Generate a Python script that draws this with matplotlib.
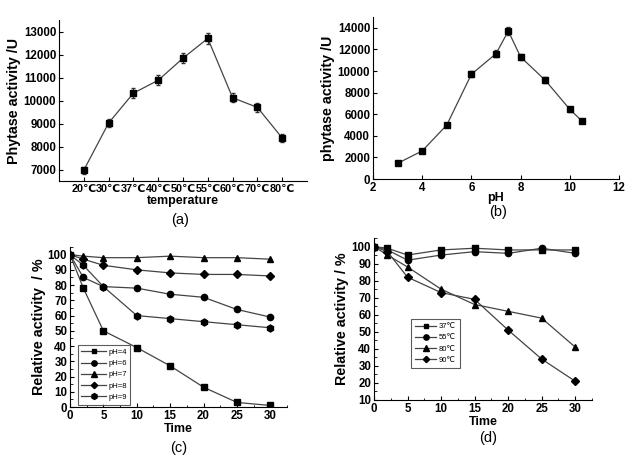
import numpy as np
import matplotlib.pyplot as plt
from matplotlib.ticker import MultipleLocator

plt.rcParams['font.family'] = ['Liberation Sans', 'DejaVu Sans']

# (a) temperature vs phytase activity
temp_labels = ['20℃', '30℃', '37℃', '40℃', '50℃', '55℃', '60℃', '70℃', '80℃']
temp_activity = [6970, 9020, 10320, 10880, 11840, 12700, 10120, 9700, 8370]
temp_err = [150, 180, 220, 220, 230, 250, 200, 200, 180]

# (b) pH vs phytase activity
ph_values = [3, 4, 5, 6, 7, 7.5, 8, 9, 10, 10.5]
ph_activity = [1450, 2600, 5000, 9700, 11600, 13700, 11300, 9150, 6450, 5350]
ph_err = [100, 100, 120, 300, 300, 400, 300, 250, 200, 120]

# (c) pH stability over time
time_c = [0, 2, 5, 10, 15, 20, 25, 30]
ph_names = ['pH=4', 'pH=6', 'pH=7', 'pH=8', 'pH=9']
ph4 = [100, 78, 50, 39, 27, 13, 3, 1]
ph6 = [100, 85, 79, 78, 74, 72, 64, 59]
ph7 = [100, 99, 98, 98, 99, 98, 98, 97]
ph8 = [100, 97, 93, 90, 88, 87, 87, 86]
ph9 = [100, 93, 79, 60, 58, 56, 54, 52]

# (d) thermal stability over time
time_d = [0, 2, 5, 10, 15, 20, 25, 30]
temp_names = ['37℃', '55℃', '80℃', '90℃']
t37 = [100, 99, 95, 98, 99, 98, 98, 98]
t55 = [100, 98, 92, 95, 97, 96, 99, 96]
t80 = [100, 95, 88, 75, 66, 62, 58, 41]
t90 = [100, 97, 82, 73, 69, 51, 34, 21]

LINE = '#444444'
TICK_FS = 8.3
YLABEL_FS = 10.3
XLABEL_FS = 9


def style_axis(ax):
    """Origin-like look: only left/bottom spines, inward ticks, bold labels."""
    ax.spines['top'].set_visible(False)
    ax.spines['right'].set_visible(False)
    ax.tick_params(direction='in', length=3, width=0.8, labelsize=TICK_FS, pad=2)
    ax.tick_params(which='minor', direction='in', length=1.8, width=0.6)
    for lab in ax.get_xticklabels() + ax.get_yticklabels():
        lab.set_fontweight('bold')


def panel_tag(fig, x, y, text):
    fig.text(x / 630, 1 - y / 459, text, ha='center', va='center', fontsize=10.5)


def small_legend(ax, anchor, hlen=3.2):
    leg = ax.legend(loc='lower left', bbox_to_anchor=anchor, borderaxespad=0,
                    fontsize=5.5, frameon=True, fancybox=False, edgecolor='#333333',
                    handlelength=hlen, labelspacing=0.5, borderpad=0.5, handletextpad=0.3,
                    markerscale=0.85)
    leg.get_frame().set_linewidth(0.8)
    return leg


fig = plt.figure(figsize=(6.3, 4.59), dpi=100)

# (a)
ax1 = fig.add_axes([59 / 630, 1 - 181 / 459, 248 / 630, 161 / 459])
xa = np.arange(1, len(temp_labels) + 1)
ax1.errorbar(xa, temp_activity, yerr=temp_err, color=LINE, lw=0.9, marker='s',
             ms=4, mfc='black', mec='black', ecolor='#333333', elinewidth=0.8, capsize=1.5)
ax1.set_xlim(0, 10)
ax1.set_ylim(6500, 13500)
ax1.set_xticks(xa)
ax1.set_xticklabels(temp_labels)
ax1.set_yticks(range(7000, 13001, 1000))
ax1.set_xlabel('temperature', fontsize=XLABEL_FS, fontweight='bold', labelpad=1)
ax1.set_ylabel('Phytase activity /U', fontsize=YLABEL_FS, fontweight='bold', labelpad=2)
style_axis(ax1)
for lab in ax1.get_xticklabels():
    lab.set_fontsize(7.8)
panel_tag(fig, 180, 220, '(a)')

# (b)
ax2 = fig.add_axes([373 / 630, 1 - 179 / 459, 246 / 630, 162 / 459])
ax2.errorbar(ph_values, ph_activity, yerr=ph_err, color=LINE, lw=0.9, marker='s',
             ms=4, mfc='black', mec='black', ecolor='#333333', elinewidth=0.8, capsize=1.5)
ax2.set_xlim(2, 12)
ax2.set_ylim(0, 15000)
ax2.set_xticks(range(2, 13, 2))
ax2.set_yticks(range(0, 14001, 2000))
ax2.set_xlabel('pH', fontsize=XLABEL_FS, fontweight='bold', labelpad=-1)
ax2.set_ylabel('phytase activity /U', fontsize=YLABEL_FS, fontweight='bold', labelpad=2)
style_axis(ax2)
panel_tag(fig, 498, 212, '(b)')

# (c)
ax3 = fig.add_axes([70 / 630, 1 - 407 / 459, 217 / 630, 160 / 459])
c_series = [ph4, ph6, ph7, ph8, ph9]
c_markers = ['s', 'o', '^', 'D', 'h']
c_sizes = [4, 4.5, 4.5, 3.8, 5]
for vals, name, mk, sz in zip(c_series, ph_names, c_markers, c_sizes):
    ax3.plot(time_c, vals, color=LINE, lw=0.9, marker=mk, ms=sz,
             mfc='black', mec='black', label=name)
ax3.set_xlim(0, 32.5)
ax3.set_ylim(0, 105)
ax3.set_xticks(range(0, 31, 5))
ax3.set_yticks(range(0, 101, 10))
ax3.yaxis.set_minor_locator(MultipleLocator(5))
ax3.xaxis.set_minor_locator(MultipleLocator(2.5))
ax3.set_xlabel('Time', fontsize=XLABEL_FS, fontweight='bold', labelpad=1)
ax3.set_ylabel('Relative activity  / %', fontsize=YLABEL_FS, fontweight='bold', labelpad=1)
style_axis(ax3)
small_legend(ax3, (0.035, 0.015))
panel_tag(fig, 179, 448, '(c)')

# (d)
ax4 = fig.add_axes([374 / 630, 1 - 400 / 459, 218 / 630, 162 / 459])
d_series = [t37, t55, t80, t90]
d_markers = ['s', 'o', '^', 'D']
d_sizes = [4, 4.5, 4.5, 3.8]
for vals, name, mk, sz in zip(d_series, temp_names, d_markers, d_sizes):
    ax4.plot(time_d, vals, color=LINE, lw=0.9, marker=mk, ms=sz,
             mfc='black', mec='black', label=name)
ax4.set_xlim(0, 32.5)
ax4.set_ylim(10, 105)
ax4.set_xticks(range(0, 31, 5))
ax4.set_yticks(range(10, 101, 10))
ax4.yaxis.set_minor_locator(MultipleLocator(5))
ax4.xaxis.set_minor_locator(MultipleLocator(2.5))
ax4.set_xlabel('Time', fontsize=XLABEL_FS, fontweight='bold', labelpad=1)
ax4.set_ylabel('Relative activity / %', fontsize=YLABEL_FS, fontweight='bold', labelpad=2)
style_axis(ax4)
small_legend(ax4, (0.17, 0.2), hlen=2.8)
panel_tag(fig, 488, 438, '(d)')

plt.savefig('out.png', dpi=100)
